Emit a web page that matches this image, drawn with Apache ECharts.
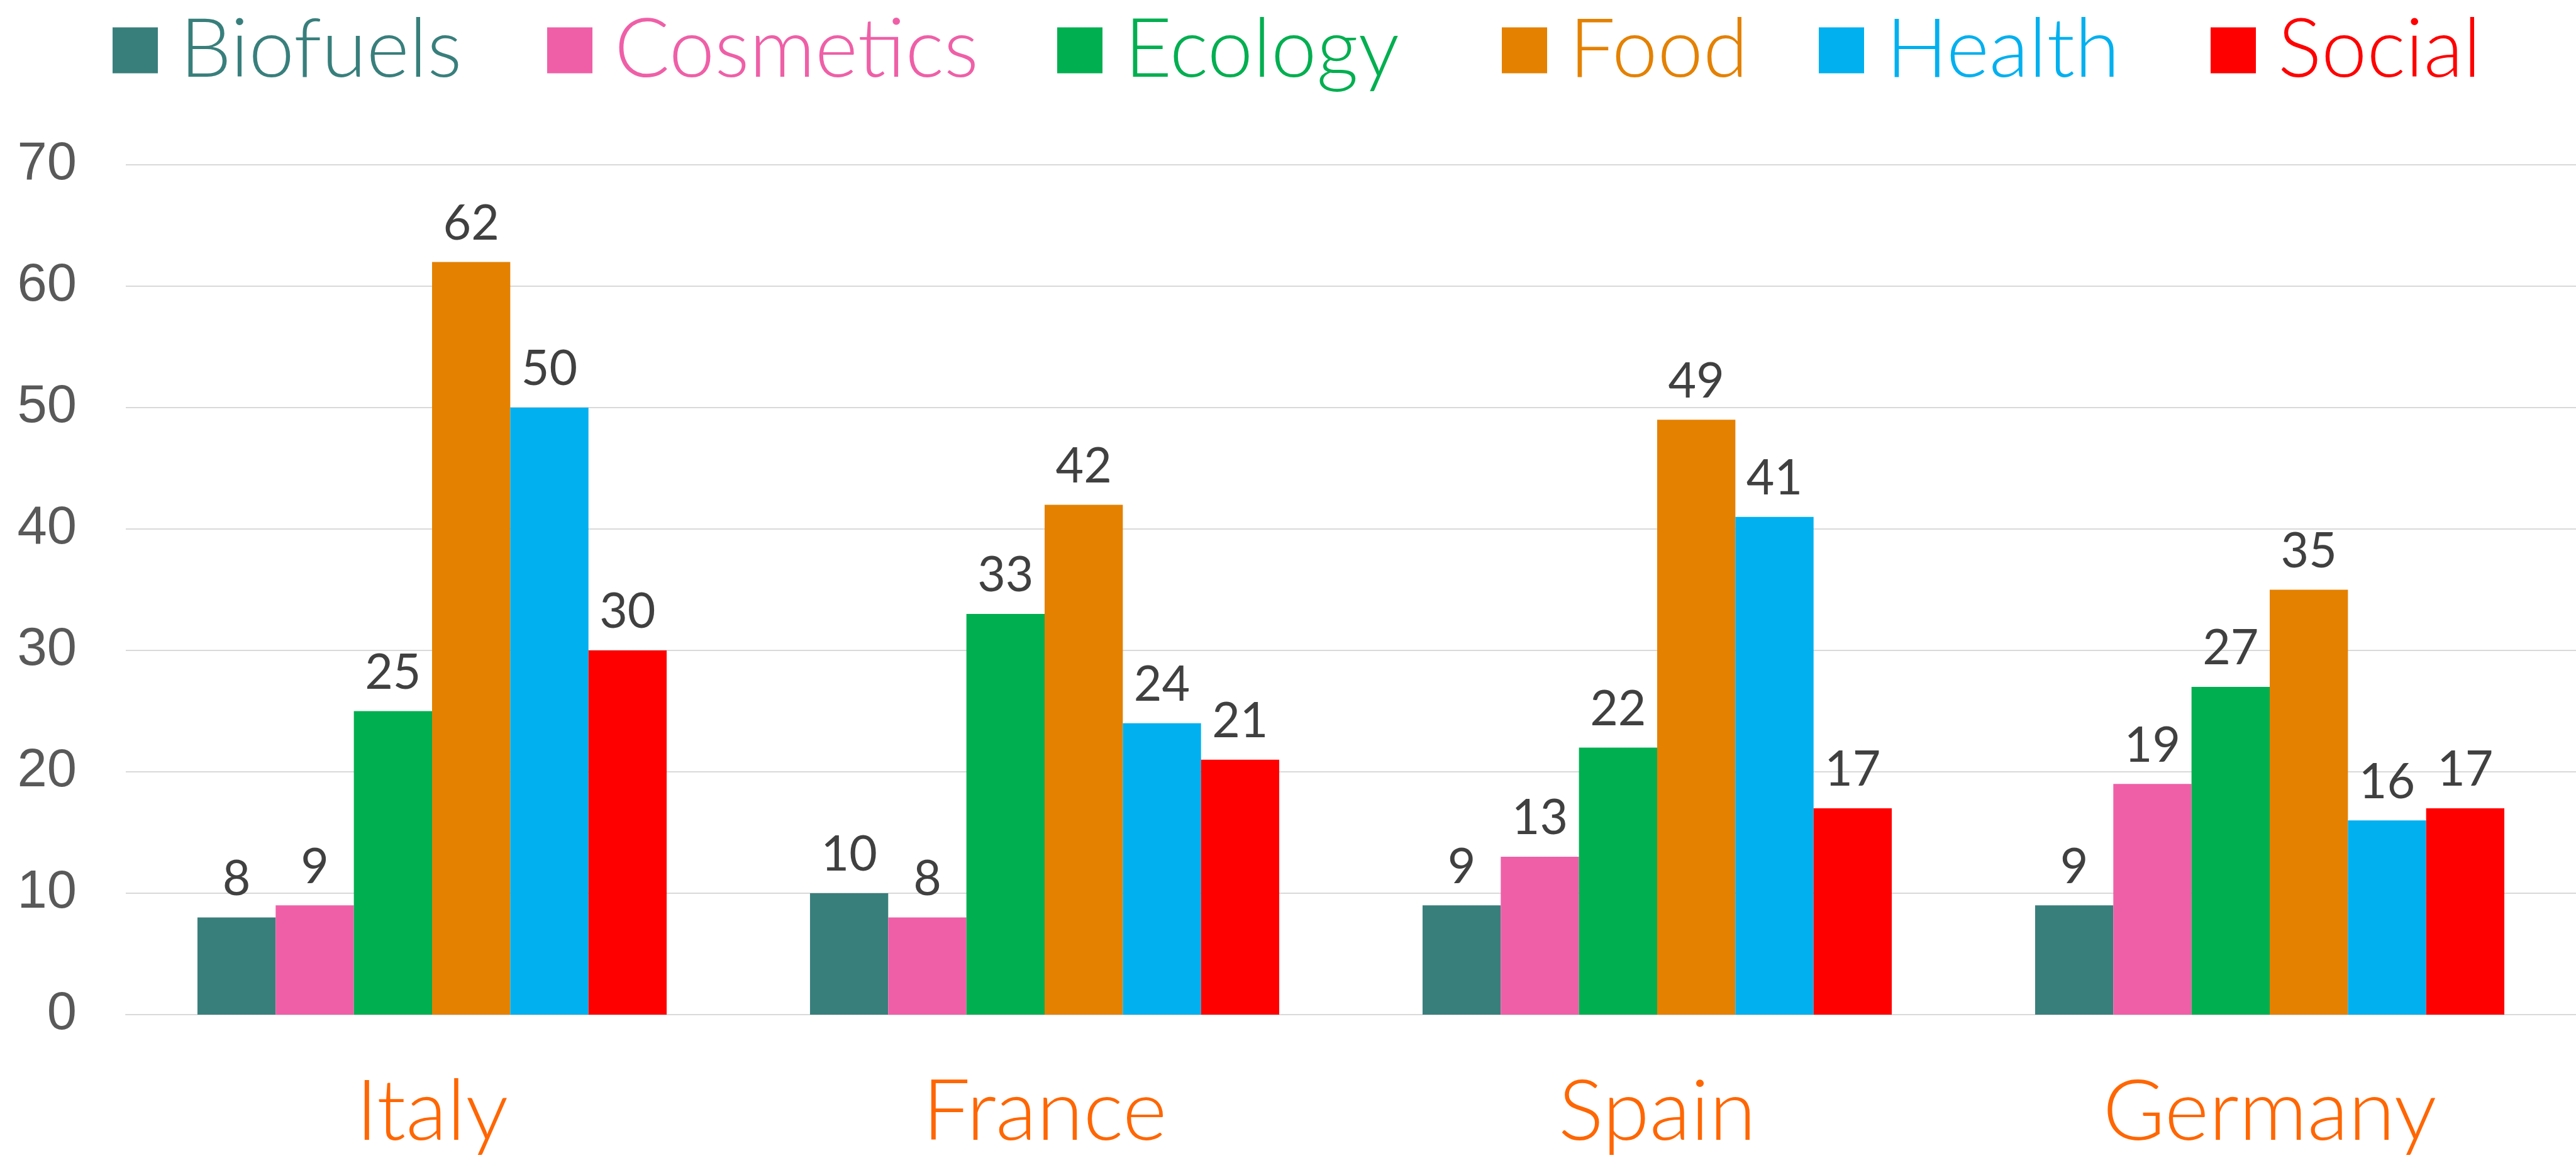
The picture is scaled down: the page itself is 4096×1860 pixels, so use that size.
<!DOCTYPE html>
<html>
<head>
<meta charset="utf-8">
<script src="https://cdn.jsdelivr.net/npm/echarts@6/dist/echarts.min.js"></script>
<style>
html,body{margin:0;padding:0;background:#fff;}
#chart{width:4096px;height:1860px;}
</style>
</head>
<body>
<div id="chart"></div>
<script>
const categories = ['Italy', 'France', 'Spain', 'Germany'];
const seriesNames = ['Biofuels', 'Cosmetics', 'Ecology', 'Food', 'Health', 'Social'];
const biofuels  = [8, 10, 9, 9];
const cosmetics = [9, 8, 13, 19];
const ecology   = [25, 33, 22, 27];
const food      = [62, 42, 49, 35];
const health    = [50, 24, 41, 16];
const social    = [30, 21, 17, 17];
const yTicks = [0, 10, 20, 30, 40, 50, 60, 70];
const colors = ['#387F7C', '#EF5FA7', '#00AF50', '#E48100', '#00B0EF', '#FF0000'];

const values = [biofuels, cosmetics, ecology, food, health, social];
const legendLefts = [174, 865, 1676, 2383, 2887, 3510];
const chart = echarts.init(document.getElementById('chart'));
const option = {
  animation: false,
  backgroundColor: '#ffffff',
  legend: seriesNames.map((n, i) => ({
    left: legendLefts[i],
    top: 10,
    itemWidth: 72,
    itemHeight: 73,
    icon: 'rect',
    selectedMode: false,
    textStyle: { fontFamily: 'Lato', fontWeight: 300, fontSize: 130, padding: [0, 0, 0, 30] },
    data: [{ name: n, itemStyle: { color: colors[i] }, textStyle: { color: colors[i] } }]
  })),
  grid: { left: 200, right: 0, top: 262, bottom: 247 },
  xAxis: {
    type: 'category',
    data: categories,
    axisLine: { show: true, lineStyle: { color: '#D9D9D9', width: 2 } },
    axisTick: { show: false },
    axisLabel: { color: '#FF6600', fontFamily: 'Lato', fontWeight: 300, fontSize: 135, margin: 88 }
  },
  yAxis: {
    type: 'value',
    min: yTicks[0],
    max: yTicks[yTicks.length - 1],
    interval: 10,
    axisLine: { show: false },
    axisTick: { show: false },
    splitLine: { lineStyle: { color: '#D9D9D9', width: 2 } },
    axisLabel: { color: '#595959', fontFamily: 'Liberation Sans', fontSize: 85, margin: 78 }
  },
  series: seriesNames.map((n, i) => ({
    name: n,
    type: 'bar',
    data: values[i],
    barGap: '0%',
    barCategoryGap: '23.4%',
    itemStyle: { color: colors[i] },
    label: {
      show: true,
      position: 'top',
      distance: 22,
      color: '#404040',
      fontFamily: 'Lato',
      fontSize: 77
    }
  }))
};
chart.setOption(option);
</script>
</body>
</html>
